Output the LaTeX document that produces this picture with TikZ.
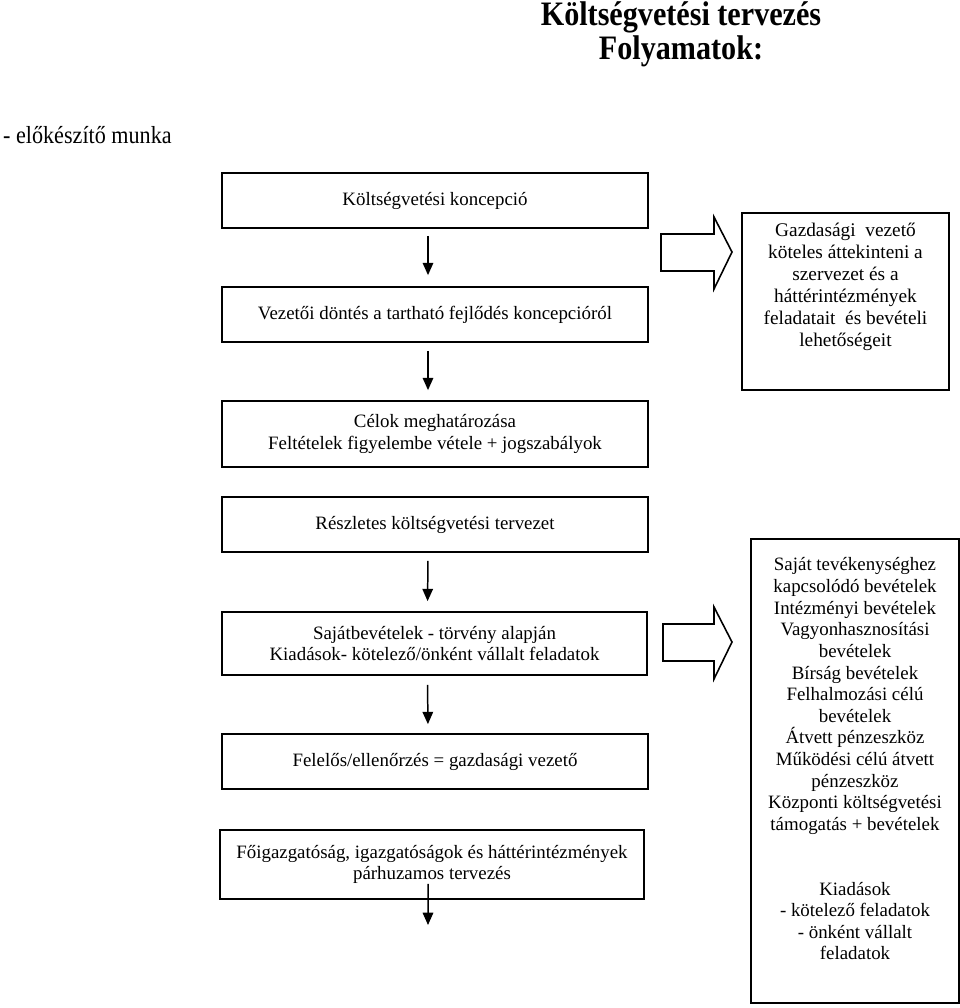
\documentclass[tikz,border=0pt]{standalone}
\usepackage{fontspec}
\setmainfont{Liberation Serif}
\newfontfamily\titlefont{Liberation Serif}[FakeStretch=0.88]
\newfontfamily\introfont{Liberation Serif}[FakeStretch=0.9]
\usetikzlibrary{arrows.meta}

\begin{document}
\begin{tikzpicture}[x=0.02cm,y=-0.02cm,>={Triangle[width=6pt,length=7pt]},
  box/.style={draw,line width=1pt,inner sep=0pt,align=center,
    font=\fontsize{10.75}{12.4}\selectfont},
  flow/.style={->,line width=0.85pt},
  bigarrow/.style={draw,line width=0.9pt,line join=miter}]
\useasboundingbox (0,0) rectangle (960,1008);

% ---------- Title ----------
\node[align=center,font=\titlefont\bfseries\fontsize{19.5}{19.2}\selectfont] (title) at (681,34)
  {Költségvetési tervezés\\Folyamatok:};
\node[anchor=base west,font=\introfont\fontsize{14}{16}\selectfont] (intro) at (-3,143) {- előkészítő munka};

% ---------- Left column: process steps ----------
\node[box,minimum width=8.52cm,minimum height=1.1cm] (konc) at (435,200.5) {Költségvetési koncepció};
\node[box,minimum width=8.52cm,minimum height=1.1cm] (dontes) at (435,314.5)
  {Vezetői döntés a tartható fejlődés koncepcióról};
\node[box,minimum width=8.52cm,minimum height=1.32cm] (celok) at (435,434)
  {Célok meghatározása\\Feltételek figyelembe vétele + jogszabályok};
\node[box,minimum width=8.52cm,minimum height=1.1cm] (reszletes) at (435,524.5)
  {Részletes költségvetési tervezet};
\node[box,minimum width=8.5cm,minimum height=1.26cm] (sajat) at (434.5,643.5)
  {Sajátbevételek - törvény alapján\\Kiadások- kötelező/önként vállalt feladatok};
\node[box,minimum width=8.52cm,minimum height=1.1cm] (felelos) at (435,761.5)
  {Felelős/ellenőrzés = gazdasági vezető};
\node[box,minimum width=8.48cm,minimum height=1.38cm] (parhuzamos) at (432,864.5)
  {Főigazgatóság, igazgatóságok és háttérintézmények\\párhuzamos tervezés};
\coordinate (vege) at (428,925);

% connectors (arrow axis sits a bit left of the box centre)
\draw[flow,shorten <=0.14cm,shorten >=0.22cm] ([xshift=-0.14cm]konc.south) -- ([xshift=-0.14cm]dontes.north);
\draw[flow,shorten <=0.16cm,shorten >=0.2cm] ([xshift=-0.14cm]dontes.south) -- ([xshift=-0.14cm]celok.north);
\draw[flow,shorten <=0.16cm,shorten >=0.2cm] ([xshift=-0.14cm]reszletes.south) -- ([xshift=-0.14cm]sajat.north);
\draw[flow,shorten <=0.18cm,shorten >=0.18cm] ([xshift=-0.14cm]sajat.south) -- ([xshift=-0.14cm]felelos.north);
\draw[flow] ([xshift=-0.08cm,yshift=0.32cm]parhuzamos.south) -- (vege);

% ---------- Right column: notes ----------
\node[box,minimum width=4.14cm,minimum height=3.54cm] (gazd) at (845.5,301.5) {};
\node[align=center,inner sep=0pt,font=\fontsize{11}{12.5}\selectfont] (gazdtxt) at (845.5,287)
  {Gazdasági\ \ vezető\\köteles áttekinteni a\\szervezet és a\\háttérintézmények\\feladatait\ \ és bevételi\\lehetőségeit};

\node[box,minimum width=4.16cm,minimum height=9.28cm] (bevetel) at (855,771) {};
\node[align=center,inner sep=0pt,font=\fontsize{10.75}{12.3}\selectfont] (beveteltxt) at (855,759)
  {Saját tevékenységhez\\kapcsolódó bevételek\\Intézményi bevételek\\Vagyonhasznosítási\\bevételek\\
   Bírság bevételek\\Felhalmozási célú\\bevételek\\Átvett pénzeszköz\\Működési célú átvett\\
   pénzeszköz\\Központi költségvetési\\támogatás + bevételek\\[24.6pt]
   Kiadások\\- kötelező feladatok\\- önként vállalt\\feladatok};

% ---------- Block arrows ----------
\draw[bigarrow] (661,234) -- (714,234) -- (714,217) -- (732,252) -- (714,289) -- (714,271) -- (661,271) -- cycle;
\draw[bigarrow] (663,624) -- (714,624) -- (714,607) -- (732,642) -- (714,679) -- (714,661) -- (663,661) -- cycle;

\end{tikzpicture}
\end{document}
